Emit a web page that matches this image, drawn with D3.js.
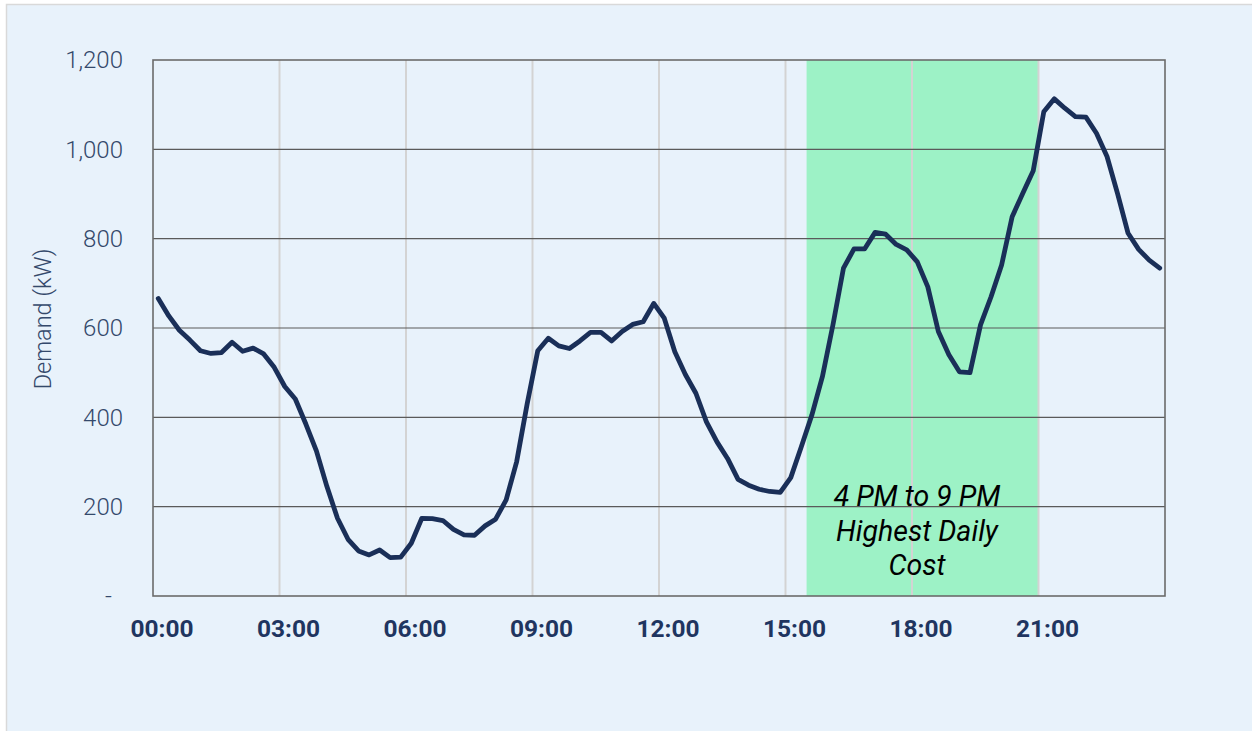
<!DOCTYPE html>
<html>
<head>
<meta charset="utf-8">
<script src="https://cdn.jsdelivr.net/npm/d3@7"></script>
<style>
  html, body { margin: 0; padding: 0; background: #ffffff; }
  svg { display: block; font-family: Roboto, "Noto Sans", sans-serif; }
</style>
</head>
<body>
<svg id="chart" width="1252" height="731"></svg>
<script>
// Demand in kW, one reading per 15-minute interval (00:00–23:45)
const demandKW = [
  666, 627, 595, 573, 549, 543, 545, 568, 548, 555, 542, 512,
  469, 441, 385, 325, 245, 174, 127, 101, 92, 103, 86, 87,
  118, 174, 173, 169, 149, 137, 136, 157, 172, 215, 301, 431,
  549, 577, 560, 554, 571, 590, 590, 571, 592, 608, 614, 655,
  622, 547, 496, 454, 390, 345, 308, 261, 248, 239, 234, 232,
  265, 334, 405, 491, 607, 734, 777, 777, 814, 810, 787, 775,
  748, 692, 592, 540, 502, 500, 607, 670, 741, 849, 901, 952,
  1084, 1113, 1092, 1073, 1072, 1036, 984, 901, 812, 776, 752, 734
];
const intervalHours = 0.25;
const xTickHours = [0, 3, 6, 9, 12, 15, 18, 21];
const yTickValues = [0, 200, 400, 600, 800, 1000, 1200];
const peakWindow = [15.5, 21];
const peakLabel = ["4 PM to 9 PM", "Highest Daily", "Cost"];
const yAxisTitle = "Demand (kW)";

const svg = d3.select("#chart");
const W = 1252, H = 731;
const plot = { left: 153, right: 1165, top: 60, bottom: 596 };

// Panel background
svg.append("rect")
  .attr("x", 6.5).attr("y", 4.5)
  .attr("width", W + 10).attr("height", H + 10)
  .attr("fill", "#e8f2fb")
  .attr("stroke", "#d9d9d9").attr("stroke-width", 1.5);

const x = d3.scaleLinear().domain([0, 24]).range([plot.left, plot.right]);
const y = d3.scaleLinear().domain([0, 1200]).range([plot.bottom, plot.top]);

// Peak-cost window
svg.append("rect")
  .attr("x", x(peakWindow[0]))
  .attr("y", y(1200))
  .attr("width", x(peakWindow[1]) - x(peakWindow[0]))
  .attr("height", y(0) - y(1200))
  .attr("fill", "#9df2c6");

// Vertical gridlines
svg.append("g")
  .selectAll("line")
  .data(xTickHours.filter(h => h > 0))
  .join("line")
  .attr("x1", d => x(d)).attr("x2", d => x(d))
  .attr("y1", y(1200)).attr("y2", y(0))
  .attr("stroke", "#d3d3d3").attr("stroke-width", 2);

// Horizontal gridlines
svg.append("g")
  .selectAll("line")
  .data(yTickValues.filter(v => v > 0 && v < 1200))
  .join("line")
  .attr("x1", x(0)).attr("x2", x(24))
  .attr("y1", d => y(d)).attr("y2", d => y(d))
  .attr("stroke", "#5a5a5a").attr("stroke-width", 1.2);

// Plot frame
svg.append("rect")
  .attr("x", x(0)).attr("y", y(1200))
  .attr("width", x(24) - x(0)).attr("height", y(0) - y(1200))
  .attr("fill", "none")
  .attr("stroke", "#6b6b6b").attr("stroke-width", 1.6);

// Y axis labels
const yAxis = d3.axisLeft(y)
  .tickValues(yTickValues)
  .tickSize(0)
  .tickPadding(0)
  .tickFormat(d => d === 0 ? "-" : d3.format(",")(d));
const gy = svg.append("g")
  .attr("transform", `translate(${plot.left - 30},0)`)
  .call(yAxis);
gy.select(".domain").remove();
gy.selectAll("text")
  .attr("fill", "#34496b")
  .attr("font-size", 24)
  .attr("font-weight", 300)
  .attr("font-family", "Roboto, sans-serif")
  .attr("dx", d => d === 0 ? -11 : 0);

// X axis labels (centred on the first interval of each 3-hour block)
const xAxis = d3.axisBottom(x)
  .tickValues(xTickHours)
  .tickSize(0)
  .tickPadding(0)
  .tickFormat(h => String(h).padStart(2, "0") + ":00");
const gx = svg.append("g")
  .attr("transform", `translate(0,${plot.bottom + 24})`)
  .call(xAxis);
gx.select(".domain").remove();
gx.selectAll("text")
  .attr("fill", "#1f3560")
  .attr("font-size", 24.5)
  .attr("font-weight", 700)
  .attr("font-family", "Roboto, sans-serif")
  .attr("dx", 8.5);

// Y axis title
svg.append("text")
  .attr("transform", `translate(51,${(plot.top + plot.bottom) / 2 - 9}) rotate(-90)`)
  .attr("text-anchor", "middle")
  .attr("fill", "#34496b")
  .attr("font-size", 23.5)
  .attr("font-weight", 300)
  .text(yAxisTitle);

// Demand line
const line = d3.line()
  .x((d, i) => x((i + 0.5) * intervalHours))
  .y(d => y(d));
svg.append("path")
  .datum(demandKW)
  .attr("d", line)
  .attr("fill", "none")
  .attr("stroke", "#1a2f58")
  .attr("stroke-width", 4.8)
  .attr("stroke-linejoin", "round")
  .attr("stroke-linecap", "round");

// Peak window annotation
svg.append("text")
  .attr("text-anchor", "middle")
  .attr("font-size", 28.5)
  .attr("font-style", "italic")
  .attr("fill", "#000000")
  .selectAll("tspan")
  .data(peakLabel)
  .join("tspan")
  .attr("x", 917)
  .attr("y", (d, i) => 506 + i * 34.5)
  .text(d => d);
</script>
</body>
</html>
